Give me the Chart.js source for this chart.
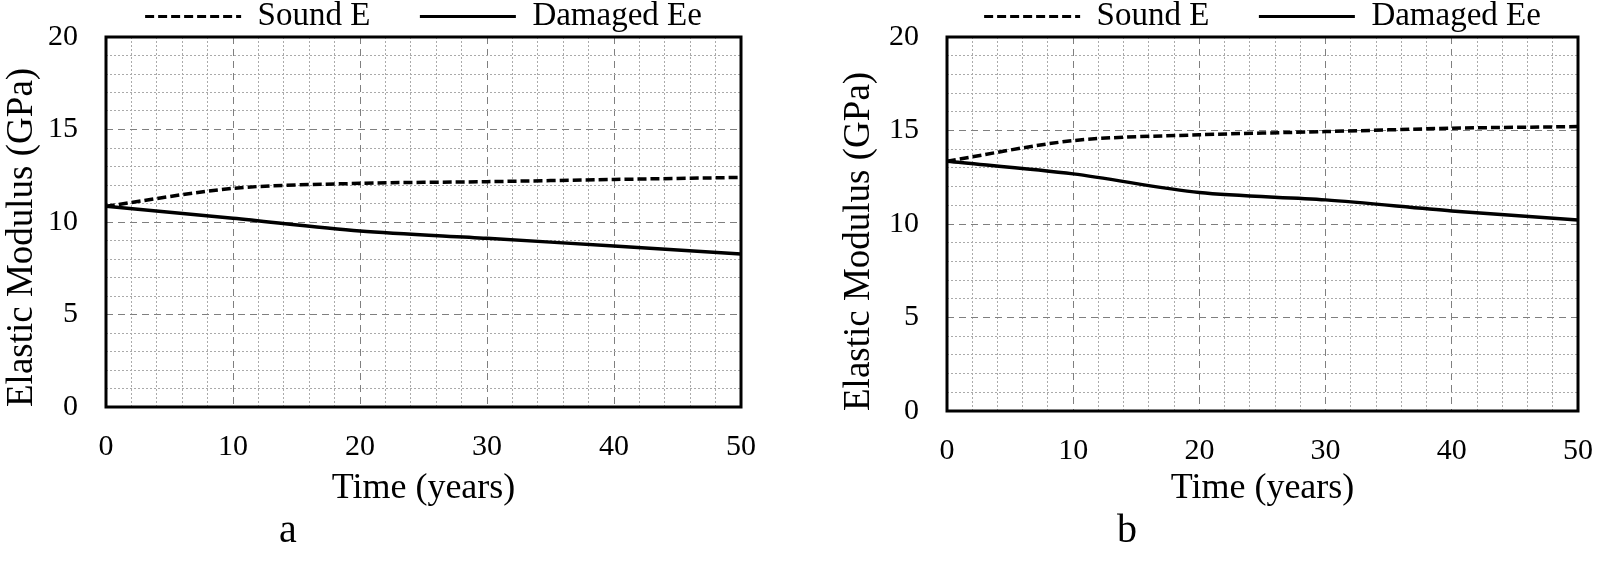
<!DOCTYPE html>
<html>
<head>
<meta charset="utf-8">
<script src="https://cdn.jsdelivr.net/npm/chart.js@4"></script>
<style>
  body { margin: 0; width: 1597px; height: 576px; background: #fff; position: relative; overflow: hidden; }
  .box { position: absolute; top: 0; height: 510px; }
  #boxA { left: 0; width: 790px; }
  #boxB { left: 837px; width: 760px; }
  .panel { position: absolute; top: 505px; font: 40px "Liberation Serif", "Times New Roman", serif; color: #000; }
</style>
</head>
<body>
<div class="box" id="boxA"><canvas id="chartA"></canvas></div>
<div class="box" id="boxB"><canvas id="chartB"></canvas></div>
<div class="panel" style="left:279px">a</div>
<div class="panel" style="left:1117px">b</div>
<script>
'use strict';

// ─── Data ───────────────────────────────────────────────────────────────────
const YEARS     = [0, 10, 20, 30, 40, 50];
const SOUND_A   = [10.85, 11.82, 12.09, 12.18, 12.30, 12.41];
const DAMAGED_A = [10.85, 10.20, 9.51, 9.12, 8.70, 8.27];
const SOUND_B   = [13.36, 14.46, 14.77, 14.94, 15.12, 15.21];
const DAMAGED_B = [13.36, 12.68, 11.68, 11.29, 10.70, 10.21];
const SERIES_LABELS = ['Sound E', 'Damaged Ee'];

const SERIF = '"Liberation Serif", "Times New Roman", serif';

// black frame round the plot area
const framePlugin = {
  id: 'frame',
  afterDatasetsDraw(chart) {
    const { ctx, chartArea: a } = chart;
    ctx.save();
    ctx.strokeStyle = '#000';
    ctx.lineWidth = 3;
    ctx.setLineDash([]);
    ctx.strokeRect(a.left, a.top, a.right - a.left, a.bottom - a.top);
    ctx.restore();
  },
};

const gridColor = major => (major ? '#7f7f7f' : '#aaaaaa');
const gridDash  = major => (major ? [7, 5] : [2, 2]);

function makeChart(canvasId, sound, damaged, yWidth, xHeight, padRight) {
  const pts = arr => YEARS.map((x, i) => ({ x, y: arr[i] }));
  return new Chart(document.getElementById(canvasId), {
    type: 'line',
    data: {
      datasets: [
        { label: SERIES_LABELS[0], data: pts(sound), borderColor: '#000', borderWidth: 3.5,
          borderDash: [9, 4], pointRadius: 0, tension: 0.3 },
        { label: SERIES_LABELS[1], data: pts(damaged), borderColor: '#000', borderWidth: 3.5,
          pointRadius: 0, tension: 0.3 },
      ],
    },
    options: {
      responsive: true,
      maintainAspectRatio: false,
      animation: false,
      layout: { padding: { top: 0, right: padRight, bottom: 0, left: 0 } },
      plugins: {
        tooltip: { enabled: false },
        legend: {
          position: 'top',
          fullSize: false,
          maxHeight: 37,
          labels: {
            color: '#000',
            font: { family: SERIF, size: 33, lineHeight: 1 },
            usePointStyle: true,
            pointStyle: 'line',
            pointStyleWidth: 96,
            padding: 0,
            generateLabels: chart => {
              const items = Chart.defaults.plugins.legend.labels.generateLabels(chart);
              items.forEach(it => {
                const ds = chart.data.datasets[it.datasetIndex];
                it.pointStyle = 'line';
                it.strokeStyle = '#000';
                it.lineWidth = 3;
                it.lineDash = ds.borderDash || [];
              });
              items[0].text = items[0].text + '\u2003\u2002';
              return items;
            },
          },
        },
      },
      scales: {
        x: {
          type: 'linear', min: 0, max: 50,
          afterFit: s => { s.height = xHeight; s.paddingLeft = 0; s.paddingRight = 0; },
          ticks: {
            stepSize: 2, autoSkip: false, maxRotation: 0, padding: 22, color: '#000',
            font: { family: SERIF, size: 30 },
            callback: v => (v % 10 === 0 ? v : ''),
          },
          grid: {
            drawTicks: false,
            lineWidth: 1,
            color: c => gridColor(c.tick && c.tick.value % 10 === 0),
          },
          border: { display: false, dash: c => gridDash(c.tick && c.tick.value % 10 === 0) },
          title: { display: true, text: 'Time (years)', color: '#000', padding: 0,
                   font: { family: SERIF, size: 36 } },
        },
        y: {
          min: 0, max: 20,
          afterFit: s => { s.width = yWidth; s.paddingTop = 0; s.paddingBottom = 0; },
          ticks: {
            stepSize: 1, autoSkip: false, padding: 28, color: '#000',
            font: { family: SERIF, size: 30 },
            callback: v => (v % 5 === 0 ? v : ''),
          },
          grid: {
            drawTicks: false,
            lineWidth: 1,
            color: c => gridColor(c.tick && c.tick.value % 5 === 0),
          },
          border: { display: false, dash: c => gridDash(c.tick && c.tick.value % 5 === 0) },
          title: { display: true, text: 'Elastic Modulus (GPa)', color: '#000', padding: 0,
                   align: 'start', font: { family: SERIF, size: 37 } },
        },
      },
    },
    plugins: [framePlugin],
  });
}

makeChart('chartA', SOUND_A, DAMAGED_A, 106, 103, 49);
makeChart('chartB', SOUND_B, DAMAGED_B, 110, 99, 19);
</script>
</body>
</html>
